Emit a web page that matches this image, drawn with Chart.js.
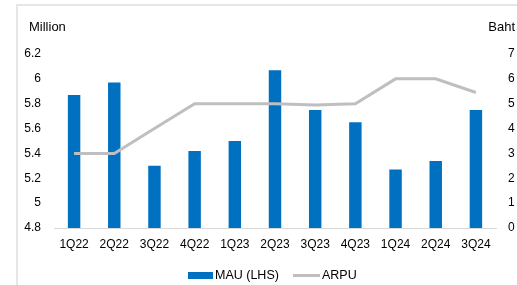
<!DOCTYPE html>
<html>
<head>
<meta charset="utf-8">
<script src="https://cdn.jsdelivr.net/npm/chart.js@4"></script>
<style>
  html, body { margin: 0; padding: 0; background: #fff; }
  #wrap { position: relative; width: 517px; height: 285px; font-family: "Liberation Sans", Arial, sans-serif; font-size: 12.5px; color: #000; }
  #frame { position: absolute; left: 16px; top: 4px; right: -2px; bottom: -2px; border: 2px solid #e6e6e6; }
  canvas { position: absolute; left: 0; top: 0; }
  .leg { position: absolute; top: 267px; height: 16px; line-height: 16px; white-space: nowrap; }
  .sw { position: absolute; }
</style>
</head>
<body>
<div id="wrap">
  <div id="frame"></div>
  <canvas id="chart" width="517" height="285"></canvas>
  <div id="legend"></div>
</div>
<script>
var quarters = ['1Q22', '2Q22', '3Q22', '4Q22', '1Q23', '2Q23', '3Q23', '4Q23', '1Q24', '2Q24', '3Q24'];
var mau = [5.87, 5.97, 5.30, 5.42, 5.50, 6.07, 5.75, 5.65, 5.27, 5.34, 5.75];
var arpu = [3, 3, 4, 5, 5, 5, 4.95, 5, 6, 6, 5.45];
var leftTitle = 'Million';
var rightTitle = 'Baht';

var FONT = '"Liberation Sans", Arial, sans-serif';
Chart.defaults.font.family = FONT;
Chart.defaults.font.size = 12;
Chart.defaults.color = '#000';

var axisTitles = {
  id: 'axisTitles',
  afterDraw(chart) {
    var ctx = chart.ctx;
    ctx.save();
    ctx.font = '13px ' + FONT;
    ctx.fillStyle = '#000';
    ctx.textBaseline = 'middle';
    ctx.textAlign = 'left';
    ctx.fillText(leftTitle, 29, 27);
    ctx.textAlign = 'right';
    ctx.fillText(rightTitle, 515, 27);
    ctx.restore();
  }
};

var chart = new Chart(document.getElementById('chart'), {
  data: {
    labels: quarters,
    datasets: [
      {
        type: 'line',
        label: 'ARPU',
        data: arpu,
        yAxisID: 'y1',
        borderColor: '#bfbfbf',
        backgroundColor: '#bfbfbf',
        borderWidth: 3,
        pointRadius: 0,
        tension: 0,
        order: 0
      },
      {
        type: 'bar',
        label: 'MAU (LHS)',
        data: mau,
        yAxisID: 'y',
        backgroundColor: '#0070c0',
        categoryPercentage: 1,
        barPercentage: 0.31,
        order: 1
      }
    ]
  },
  options: {
    responsive: false,
    animation: false,
    layout: { padding: { top: 54, left: 0, right: 0, bottom: 0 } },
    plugins: {
      legend: { display: false },
      tooltip: { enabled: false }
    },
    scales: {
      x: {
        offset: true,
        grid: { display: false, drawTicks: false },
        border: { display: true, color: '#d9d9d9', width: 1 },
        ticks: { padding: 9, maxRotation: 0, autoSkip: false },
        afterFit(s) { s.height = 57; }
      },
      y: {
        position: 'left',
        min: 4.8,
        max: 6.2,
        grid: { display: false, drawTicks: false },
        border: { display: false },
        ticks: { stepSize: 0.2, padding: 13, callback: function (v) { return +v.toFixed(1) + ''; } },
        afterFit(s) { s.width = 54; }
      },
      y1: {
        position: 'right',
        min: 0,
        max: 7,
        grid: { display: false, drawTicks: false },
        border: { display: false },
        ticks: { stepSize: 1, padding: 12 },
        afterFit(s) { s.width = 21; }
      }
    }
  },
  plugins: [axisTitles]
});

// legend built from the chart's datasets
var legend = document.getElementById('legend');
var barDs = chart.data.datasets[1];
var lineDs = chart.data.datasets[0];
legend.innerHTML =
  '<div class="sw" style="left:188px;top:272px;width:25px;height:7px;background:' + barDs.backgroundColor + '"></div>' +
  '<div class="leg" style="left:215px">' + barDs.label + '</div>' +
  '<div class="sw" style="left:293px;top:274px;width:27px;height:3px;background:' + lineDs.borderColor + '"></div>' +
  '<div class="leg" style="left:322px">' + lineDs.label + '</div>';
</script>
</body>
</html>
